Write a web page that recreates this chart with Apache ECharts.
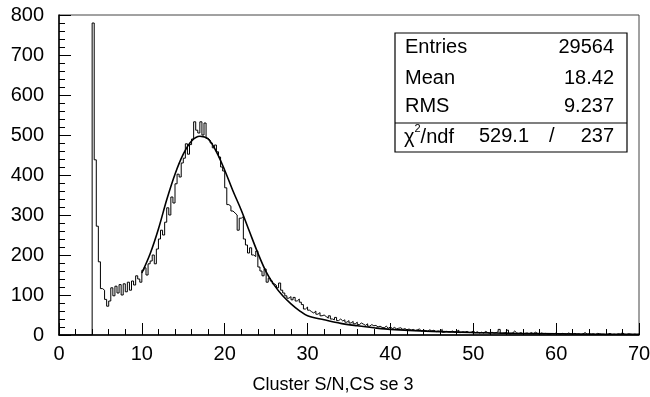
<!DOCTYPE html>
<html>
<head>
<meta charset="utf-8">
<script src="https://cdn.jsdelivr.net/npm/echarts@6/dist/echarts.min.js"></script>
<style>
  html, body { margin: 0; padding: 0; background: #fff; }
  #chart { width: 650px; height: 397px; }
</style>
</head>
<body>
<div id="chart"></div>
<script>
// bin width 0.25, range 0..70 (280 bins), one row = 1 unit of x
const binWidth = 0.25;
const binCounts = [
  0, 0, 0, 0,   0, 0, 0, 0,   0, 0, 0, 0,   0, 0, 0, 0,         // 0-3
  780, 438, 272, 183,   116, 112, 89, 72,                        // 4-5
  85, 118, 98, 122,     105, 126, 100, 128,                      // 6-7
  108, 132, 112, 135,   125, 148, 140, 132,                      // 8-9
  162, 168, 150, 178,   185, 200, 178, 215,                      // 10-11
  240, 262, 250, 282,   318, 300, 345, 330,                      // 12-13
  378, 402, 395, 430,   442, 478, 452, 476,                      // 14-15
  490, 533, 512, 505,   533, 500, 530, 492,                      // 16-17
  487, 480, 468, 475,   458, 445, 420, 410,                      // 18-19
  368, 326, 322, 310,   305, 300, 262, 292,                      // 20-21
  296, 240, 225, 205,   218, 200, 196, 210,                      // 22-23
  170, 160, 148, 165,   132, 142, 135, 128,                      // 24-25
  124, 118, 130, 112,   105, 98, 92, 96,                         // 26-27
  88, 94, 85, 90,       82, 76, 65, 70,                          // 28-29
  62, 58, 55, 60,       52, 56, 48, 50,                          // 30-31
  46, 42, 48, 40,       38, 44, 36, 40,                          // 32-33
  35, 38, 32, 36,       30, 34, 28, 32,                          // 34-35
  26, 30, 27, 24,       28, 22, 26, 23,                          // 36-37
  24, 20, 22, 19,       18, 22, 17, 20,                          // 38-39
  16, 19, 15, 17,       18, 14, 16, 13,                          // 40-41
  15, 12, 14, 11,       13, 15, 10, 12,                          // 42-43
  11, 9, 13, 10,        12, 8, 10, 9,                            // 44-45
  14, 7, 9, 8,          8, 10, 7, 9,                             // 46-47
  12, 6, 8, 7,          9, 6, 7, 10,                             // 48-49
  6, 8, 5, 7,           5, 9, 6, 4,                              // 50-51
  7, 5, 6, 8,           14, 4, 5, 6,                             // 52-53
  12, 3, 5, 10,         5, 4, 6, 3,                              // 54-55
  4, 5, 3, 6,           3, 7, 4, 2,                              // 56-57
  5, 3, 4, 2,           2, 4, 3, 5,                              // 58-59
  3, 2, 4, 3,           2, 5, 3, 2,                              // 60-61
  4, 2, 3, 1,           3, 6, 2, 3,                              // 62-63
  2, 3, 1, 4,           3, 2, 2, 1,                              // 64-65
  2, 4, 1, 2,           1, 3, 2, 6,                              // 66-67
  2, 1, 3, 2,           1, 2, 1, 2                               // 68-69
];

// fit curve (fit range 10..70)
const fitX = [10, 11, 12, 13, 14, 15, 16, 17, 18, 19, 20, 21, 22, 23, 24, 25, 26, 27, 28, 29, 30,
              32, 34, 36, 38, 40, 45, 50, 55, 60, 65, 70];
const fitY = [155, 203, 265, 338, 402, 452, 485, 497, 490, 458, 412, 360, 312, 258, 205, 158, 124, 98, 78, 61, 48,
              38, 29, 23, 18, 14, 9, 6, 4, 3, 2, 1.5];

const yTicks = [0, 100, 200, 300, 400, 500, 600, 700, 800];
const xTicks = [0, 10, 20, 30, 40, 50, 60, 70];
const xTitle = 'Cluster S/N,CS se 3';

const statLabels = ['Entries', 'Mean', 'RMS'];
const statValues = ['29564', '18.42', '9.237'];
const chiValue = '529.1';
const ndfValue = '237';

// histogram as step line, points on left bin edges
const histData = binCounts.map((v, i) => [i * binWidth, v]);
histData.push([binCounts.length * binWidth, binCounts[binCounts.length - 1]]);
const fitData = fitX.map((x, i) => [x, fitY[i]]);

const font = '"Liberation Sans", Arial, sans-serif';

const chart = echarts.init(document.getElementById('chart'));

// stats box
const boxL = 395, boxR = 627, boxT = 33, boxB = 152, rowY = [48, 79, 107, 137];
const graphics = [
  { type: 'rect', shape: { x: boxL, y: boxT, width: boxR - boxL, height: boxB - boxT },
    style: { fill: '#fff', stroke: '#000', lineWidth: 1.2 }, z: 100 },
  { type: 'line', shape: { x1: boxL, y1: 123, x2: boxR, y2: 123 },
    style: { stroke: '#000', lineWidth: 1.2 }, z: 101 }
];
statLabels.forEach((t, i) => {
  graphics.push({ type: 'text', left: 405, top: rowY[i] - 11, z: 102,
    style: { text: t, font: '20px ' + font, fill: '#000' } });
  graphics.push({ type: 'text', right: 650 - 614, top: rowY[i] - 11, z: 102,
    style: { text: statValues[i], font: '20px ' + font, fill: '#000' } });
});
graphics.push({ type: 'text', left: 404, top: rowY[3] - 14, z: 102,
  style: {
    text: '{c|χ}{s|2}{c|/ndf}',
    rich: {
      c: { fontSize: 20, fontFamily: font, fill: '#000', verticalAlign: 'bottom', padding: [4, 0, 0, 0] },
      s: { fontSize: 11, fontFamily: font, fill: '#000', verticalAlign: 'top' }
    }
  } });
graphics.push({ type: 'text', left: 479, top: rowY[3] - 11, z: 102,
  style: { text: chiValue, font: '20px ' + font, fill: '#000' } });
graphics.push({ type: 'text', left: 549, top: rowY[3] - 11, z: 102,
  style: { text: '/', font: '20px ' + font, fill: '#000' } });
graphics.push({ type: 'text', right: 650 - 614, top: rowY[3] - 11, z: 102,
  style: { text: ndfValue, font: '20px ' + font, fill: '#000' } });
// x axis title (sits left of the axis centre in the original)
graphics.push({ type: 'text', x: 333, y: 385, z: 102,
  style: { text: xTitle, font: '18px ' + font, fill: '#000', align: 'center', verticalAlign: 'middle' } });

const option = {
  animation: false,
  backgroundColor: '#fff',
  grid: {
    left: 59, right: 11, top: 15, bottom: 62,
    outerBoundsMode: 'none',
    containLabel: false,
    show: true, borderColor: '#444', borderWidth: 1
  },
  xAxis: {
    type: 'value', min: 0, max: 70, interval: 10,
    axisLine: { show: true, lineStyle: { color: '#000', width: 1.5 } },
    axisTick: { show: true, inside: true, length: 12, lineStyle: { color: '#000', width: 1 } },
    minorTick: { show: true, splitNumber: 5, length: 6, lineStyle: { color: '#000', width: 1 } },
    splitLine: { show: false },
    axisLabel: {
      margin: 9, fontFamily: font, fontSize: 20, color: '#000',
      formatter: v => xTicks.includes(v) ? String(v) : ''
    }
  },
  yAxis: {
    type: 'value', min: 0, max: 800, interval: 100,
    axisLine: { show: true, lineStyle: { color: '#000', width: 1.5 } },
    axisTick: { show: true, inside: true, length: 12, lineStyle: { color: '#000', width: 1 } },
    minorTick: { show: true, splitNumber: 5, length: 6, lineStyle: { color: '#000', width: 1 } },
    splitLine: { show: false },
    axisLabel: {
      margin: 15, fontFamily: font, fontSize: 20, color: '#000',
      formatter: v => yTicks.includes(v) ? String(v) : ''
    }
  },
  series: [
    {
      name: 'hist', type: 'line', step: 'end', data: histData,
      showSymbol: false, symbol: 'none',
      lineStyle: { color: '#000', width: 1 }, z: 3
    },
    {
      name: 'fit', type: 'line', data: fitData, smooth: 0.35,
      showSymbol: false, symbol: 'none',
      lineStyle: { color: '#000', width: 1.6 }, z: 4
    }
  ],
  graphic: graphics
};

chart.setOption(option);
</script>
</body>
</html>
